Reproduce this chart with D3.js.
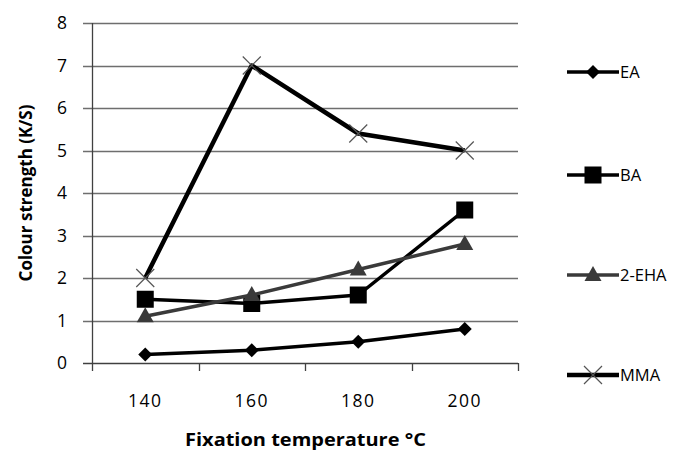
<!DOCTYPE html>
<html>
<head>
<meta charset="utf-8">
<script src="https://cdn.jsdelivr.net/npm/d3@7"></script>
<style>
  html, body { margin: 0; padding: 0; background: #fff; }
  svg { display: block; font-family: "Open Sans", "Liberation Sans", sans-serif; }
</style>
</head>
<body>
<svg id="chart" width="685" height="452"></svg>
<script>
// Fixation temperature categories and colour strength (K/S) per monomer
const temperatures = ["140", "160", "180", "200"];
const seriesNames = ["EA", "BA", "2-EHA", "MMA"];
const eaValues   = [0.2, 0.3, 0.5, 0.8];
const baValues   = [1.5, 1.4, 1.6, 3.6];
const ehaValues  = [1.1, 1.6, 2.2, 2.8];
const mmaValues  = [2.0, 7.0, 5.4, 5.0];
const yTicks = [0, 1, 2, 3, 4, 5, 6, 7, 8];

const series = [
  { name: seriesNames[0], values: eaValues,  color: "#000", width: 3.5, marker: "diamond" },
  { name: seriesNames[1], values: baValues,  color: "#000", width: 3.5, marker: "square" },
  { name: seriesNames[2], values: ehaValues, color: "#3a3a3a", width: 3.5, marker: "triangle" },
  { name: seriesNames[3], values: mmaValues, color: "#000", width: 4.5, marker: "cross" }
];

const svg = d3.select("#chart");
const plot = { left: 92, right: 518, top: 23, bottom: 363 };

const x = d3.scaleBand().domain(temperatures).range([plot.left, plot.right]);
const y = d3.scaleLinear().domain([0, 8]).range([plot.bottom, plot.top]);

// horizontal gridlines with outward tick stubs
svg.append("g")
  .selectAll("line")
  .data(yTicks)
  .join("line")
  .attr("x1", plot.left - 9)
  .attr("x2", plot.right)
  .attr("y1", d => Math.round(y(d)) + 0.5)
  .attr("y2", d => Math.round(y(d)) + 0.5)
  .attr("stroke", d => d === 0 ? "#404040" : "#6e6e6e")
  .attr("stroke-width", 1.3);

// y axis labels
svg.append("g")
  .selectAll("text")
  .data(yTicks)
  .join("text")
  .attr("x", plot.left - 25)
  .attr("y", d => y(d))
  .attr("dy", "0.36em")
  .attr("text-anchor", "end")
  .attr("font-size", 17.5)
  .attr("fill", "#000")
  .text(d => d);

// vertical axis line
svg.append("line")
  .attr("x1", plot.left + 0.5).attr("x2", plot.left + 0.5)
  .attr("y1", plot.top).attr("y2", plot.bottom + 8)
  .attr("stroke", "#404040").attr("stroke-width", 1.3);

// x axis tick marks at category boundaries
const boundaries = temperatures.map(t => x(t)).concat([plot.right]);
svg.append("g")
  .selectAll("line")
  .data(boundaries.slice(1))
  .join("line")
  .attr("x1", d => Math.round(d) + 0.5)
  .attr("x2", d => Math.round(d) + 0.5)
  .attr("y1", plot.bottom)
  .attr("y2", plot.bottom + 8)
  .attr("stroke", "#404040")
  .attr("stroke-width", 1.3);

// x axis labels
svg.append("g")
  .selectAll("text")
  .data(temperatures)
  .join("text")
  .attr("x", d => x(d) + x.bandwidth() / 2)
  .attr("y", 407)
  .attr("text-anchor", "middle")
  .attr("font-size", 17.5)
  .attr("letter-spacing", "1.5px")
  .attr("fill", "#000")
  .text(d => d);

// axis titles
svg.append("text")
  .attr("transform", `translate(${(plot.left + plot.right) / 2 + 0.5},446) scale(1.08,1)`)
  .attr("text-anchor", "middle")
  .attr("font-size", 18.5)
  .attr("font-weight", "bold")
  .text("Fixation temperature °C");

svg.append("text")
  .attr("transform", `translate(32,${(plot.top + plot.bottom) / 2}) rotate(-90)`)
  .attr("text-anchor", "middle")
  .attr("font-size", 17)
  .attr("font-weight", "bold")
  .text("Colour strength (K/S)");

// marker drawing
function drawMarker(g, type, cx, cy, color) {
  if (type === "diamond") {
    const r = 7;
    g.append("path")
      .attr("d", `M${cx},${cy - r}L${cx + r},${cy}L${cx},${cy + r}L${cx - r},${cy}Z`)
      .attr("fill", "#000");
  } else if (type === "square") {
    const s = 17;
    g.append("rect")
      .attr("x", cx - s / 2).attr("y", cy - s / 2)
      .attr("width", s).attr("height", s)
      .attr("fill", "#000");
  } else if (type === "triangle") {
    const h = 15, w = 17;
    g.append("path")
      .attr("d", `M${cx},${cy - h * 0.6}L${cx + w / 2},${cy + h * 0.4}L${cx - w / 2},${cy + h * 0.4}Z`)
      .attr("fill", color);
  } else if (type === "cross") {
    const r = 9;
    g.append("path")
      .attr("d", `M${cx - r},${cy - r}L${cx + r},${cy + r}M${cx - r},${cy + r}L${cx + r},${cy - r}`)
      .attr("stroke", "#555").attr("stroke-width", 1.2).attr("fill", "none");
  }
}

const line = d3.line()
  .x((d, i) => x(temperatures[i]) + x.bandwidth() / 2)
  .y(d => y(d));

const marks = svg.append("g");
series.forEach(s => {
  const g = marks.append("g");
  g.append("path")
    .attr("d", line(s.values))
    .attr("fill", "none")
    .attr("stroke", s.color)
    .attr("stroke-width", s.width)
    .attr("stroke-linejoin", "round");
  s.values.forEach((v, i) => {
    drawMarker(g, s.marker, x(temperatures[i]) + x.bandwidth() / 2, y(v), s.color);
  });
});

// legend
const legendY = [72, 175, 275, 375];
const legend = svg.append("g");
series.forEach((s, i) => {
  const g = legend.append("g");
  const ly = legendY[i];
  g.append("line")
    .attr("x1", 567).attr("x2", 619)
    .attr("y1", ly).attr("y2", ly)
    .attr("stroke", s.color).attr("stroke-width", s.width);
  drawMarker(g, s.marker, 593, ly, s.color);
  g.append("text")
    .attr("x", 620)
    .attr("y", ly)
    .attr("dy", "0.36em")
    .attr("font-size", 16.5)
    .attr("fill", "#000")
    .text(s.name);
});
</script>
</body>
</html>
